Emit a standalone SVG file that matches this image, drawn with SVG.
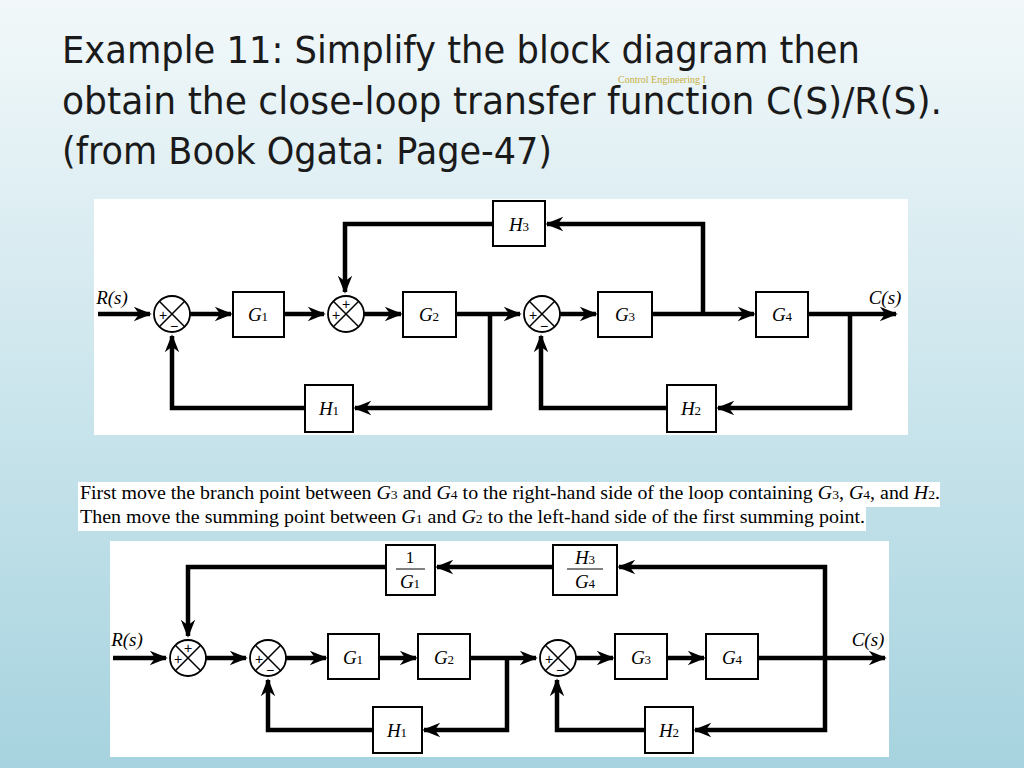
<svg xmlns="http://www.w3.org/2000/svg" width="1024" height="768" viewBox="0 0 1024 768">
<defs>
<linearGradient id="bg" x1="0" y1="0" x2="0" y2="1"><stop offset="0" stop-color="#f2f8fa"/><stop offset="1" stop-color="#a6d3df"/></linearGradient>
<marker id="ar" viewBox="0 0 10 10" refX="9" refY="5" markerWidth="5" markerHeight="4" markerUnits="strokeWidth" orient="auto"><path d="M0,1 L10,5 L0,9 L3,5 Z" fill="#000"/></marker>
<g id="sum"><circle r="18" fill="#fff" stroke="#000" stroke-width="1.8"/><path d="M-12.7,-12.7 L12.7,12.7 M-12.7,12.7 L12.7,-12.7" stroke="#000" stroke-width="1.5"/></g>
</defs>
<style>
.w{fill:none;stroke:#000;stroke-width:4.5}
.b{fill:#fff;stroke:#000;stroke-width:2}
.t{font-family:"Liberation Serif",serif;font-style:italic;font-size:19px;text-anchor:middle}
.t tspan{font-size:13px;font-style:normal}
.s{font-family:"Liberation Sans",sans-serif;font-size:14px;text-anchor:middle;fill:#000}
.h{font-family:"DejaVu Sans Condensed","DejaVu Sans",sans-serif;font-size:37px;fill:#1a1a1a}
.p{font-family:"Liberation Serif",serif;font-size:19px}
.p tspan.i{font-style:italic}
.p tspan.n{font-size:13px}
</style>
<rect width="1024" height="768" fill="url(#bg)"/>
<g id="title">
<text class="h" x="62" y="63" textLength="798" lengthAdjust="spacingAndGlyphs">Example 11: Simplify the block diagram then</text>
<text class="h" x="62" y="114" textLength="880" lengthAdjust="spacingAndGlyphs">obtain the close-loop transfer function C(S)/R(S).</text>
<text class="h" x="62" y="164" textLength="490" lengthAdjust="spacingAndGlyphs">(from Book Ogata: Page-47)</text>
<text x="618" y="83" font-family="Liberation Serif,serif" font-size="10" fill="#c8b040">Control Engineering I</text>
</g>
<rect x="94" y="199" width="814" height="236" fill="#fff"/>
<g id="connectors1">
<path class="w" d="M98,314 H150" marker-end="url(#ar)"/>
<path class="w" d="M190,314 H231" marker-end="url(#ar)"/>
<path class="w" d="M284,314 H324" marker-end="url(#ar)"/>
<path class="w" d="M364,314 H401" marker-end="url(#ar)"/>
<path class="w" d="M456,314 H520" marker-end="url(#ar)"/>
<path class="w" d="M560,314 H596" marker-end="url(#ar)"/>
<path class="w" d="M652,314 H754" marker-end="url(#ar)"/>
<path class="w" d="M808,314 H896" marker-end="url(#ar)"/>
<path class="w" d="M490,314 V408 H355" marker-end="url(#ar)"/>
<path class="w" d="M305,408 H172 V336" marker-end="url(#ar)"/>
<path class="w" d="M703,314 V224 H547" marker-end="url(#ar)"/>
<path class="w" d="M493,224 H345 V292" marker-end="url(#ar)"/>
<path class="w" d="M850,314 V408 H718" marker-end="url(#ar)"/>
<path class="w" d="M667,408 H541 V336" marker-end="url(#ar)"/>
</g>
<g id="top-nodes">
<g id="s1"><use href="#sum" x="172" y="314"/><text class="s" x="163" y="320">+</text><text class="s" x="174" y="331">−</text></g>
<g id="s2"><use href="#sum" x="346" y="314"/><text class="s" x="336" y="320">+</text><text class="s" x="346" y="309">+</text></g>
<g id="s3"><use href="#sum" x="542" y="314"/><text class="s" x="533" y="320">+</text><text class="s" x="544" y="331">−</text></g>
<g id="G1a"><rect class="b" x="233" y="292" width="51" height="45"/><text class="t" x="258" y="321">G<tspan>1</tspan></text></g>
<g id="G2a"><rect class="b" x="403" y="292" width="53" height="45"/><text class="t" x="429" y="321">G<tspan>2</tspan></text></g>
<g id="G3a"><rect class="b" x="598" y="292" width="54" height="45"/><text class="t" x="625" y="321">G<tspan>3</tspan></text></g>
<g id="G4a"><rect class="b" x="756" y="292" width="52" height="45"/><text class="t" x="782" y="321">G<tspan>4</tspan></text></g>
<g id="H1a"><rect class="b" x="305" y="385" width="48" height="47"/><text class="t" x="329" y="415">H<tspan>1</tspan></text></g>
<g id="H2a"><rect class="b" x="667" y="385" width="49" height="47"/><text class="t" x="691" y="415">H<tspan>2</tspan></text></g>
<g id="H3a"><rect class="b" x="493" y="201" width="52" height="45"/><text class="t" x="519" y="231">H<tspan>3</tspan></text></g>
<text class="t" x="112" y="304">R(s)</text>
<text class="t" x="885" y="304">C(s)</text>
</g>
<g id="caption">
<rect x="78" y="482" width="862" height="25" fill="#fff"/>
<rect x="78" y="507" width="788" height="24" fill="#fff"/>
<text class="p" x="80" y="499" textLength="860" lengthAdjust="spacingAndGlyphs">First move the branch point between <tspan class="i">G</tspan><tspan class="n">3</tspan> and <tspan class="i">G</tspan><tspan class="n">4</tspan> to the right-hand side of the loop containing <tspan class="i">G</tspan><tspan class="n">3</tspan>, <tspan class="i">G</tspan><tspan class="n">4</tspan>, and <tspan class="i">H</tspan><tspan class="n">2</tspan>.</text>
<text class="p" x="80" y="523" textLength="785" lengthAdjust="spacingAndGlyphs">Then move the summing point between <tspan class="i">G</tspan><tspan class="n">1</tspan> and <tspan class="i">G</tspan><tspan class="n">2</tspan> to the left-hand side of the first summing point.</text>
</g>
<rect x="110" y="541" width="779" height="216" fill="#fff"/>
<g id="connectors2">
<path class="w" d="M113,658 H166" marker-end="url(#ar)"/>
<path class="w" d="M206,658 H246" marker-end="url(#ar)"/>
<path class="w" d="M286,658 H326" marker-end="url(#ar)"/>
<path class="w" d="M379,658 H416" marker-end="url(#ar)"/>
<path class="w" d="M470,658 H536" marker-end="url(#ar)"/>
<path class="w" d="M576,658 H613" marker-end="url(#ar)"/>
<path class="w" d="M667,658 H704" marker-end="url(#ar)"/>
<path class="w" d="M758,658 H885" marker-end="url(#ar)"/>
<path class="w" d="M507,658 V730 H424" marker-end="url(#ar)"/>
<path class="w" d="M373,730 H268 V680" marker-end="url(#ar)"/>
<path class="w" d="M825,658 V730 H695" marker-end="url(#ar)"/>
<path class="w" d="M645,730 H557 V680" marker-end="url(#ar)"/>
<path class="w" d="M825,658 V567 H619" marker-end="url(#ar)"/>
<path class="w" d="M553,567 H437" marker-end="url(#ar)"/>
<path class="w" d="M386,567 H188 V636" marker-end="url(#ar)"/>
</g>
<g id="bottom-nodes">
<g id="sA"><use href="#sum" x="188" y="658"/><text class="s" x="178" y="664">+</text><text class="s" x="188" y="653">+</text></g>
<g id="sB"><use href="#sum" x="268" y="658"/><text class="s" x="259" y="664">+</text><text class="s" x="270" y="675">−</text></g>
<g id="sC"><use href="#sum" x="558" y="658"/><text class="s" x="549" y="664">+</text><text class="s" x="560" y="675">−</text></g>
<g id="G1b"><rect class="b" x="328" y="634" width="51" height="45"/><text class="t" x="353" y="664">G<tspan>1</tspan></text></g>
<g id="G2b"><rect class="b" x="418" y="634" width="52" height="45"/><text class="t" x="444" y="664">G<tspan>2</tspan></text></g>
<g id="G3b"><rect class="b" x="615" y="634" width="52" height="45"/><text class="t" x="641" y="664">G<tspan>3</tspan></text></g>
<g id="G4b"><rect class="b" x="706" y="634" width="52" height="45"/><text class="t" x="732" y="664">G<tspan>4</tspan></text></g>
<g id="H1b"><rect class="b" x="373" y="707" width="49" height="46"/><text class="t" x="397" y="737">H<tspan>1</tspan></text></g>
<g id="H2b"><rect class="b" x="645" y="707" width="48" height="46"/><text class="t" x="669" y="737">H<tspan>2</tspan></text></g>
<g id="invG1"><rect class="b" x="386" y="545" width="49" height="50"/><text x="410" y="563" font-family="Liberation Serif,serif" font-size="17" text-anchor="middle">1</text><path d="M396,569 H425" stroke="#000" stroke-width="1"/><text class="t" x="410" y="588">G<tspan>1</tspan></text></g>
<g id="H3G4"><rect class="b" x="553" y="545" width="64" height="50"/><text class="t" x="585" y="564">H<tspan>3</tspan></text><path d="M567,569 H603" stroke="#000" stroke-width="1"/><text class="t" x="585" y="588">G<tspan>4</tspan></text></g>
<text class="t" x="127" y="646">R(s)</text>
<text class="t" x="868" y="646">C(s)</text>
</g>
</svg>
